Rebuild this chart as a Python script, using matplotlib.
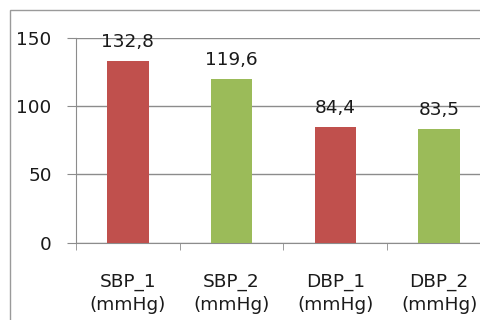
import numpy as np
import matplotlib
matplotlib.use("Agg")
import matplotlib.pyplot as plt
from matplotlib.patches import Rectangle

# data
categories = ["SBP_1\n(mmHg)", "SBP_2\n(mmHg)", "DBP_1\n(mmHg)", "DBP_2\n(mmHg)"]
values = [132.8, 119.6, 84.4, 83.5]
value_labels = ["132,8", "119,6", "84,4", "83,5"]
colors = ["#C0504D", "#9BBB59", "#C0504D", "#9BBB59"]

W, H = 481, 320
FS = 13.3
plt.rcParams['font.family'] = ['DejaVu Sans']
fig = plt.figure(figsize=(W / 100, H / 100), dpi=100)

# outer chart border (cut off at right and bottom like the original)
fig.patches.append(Rectangle((10 / W, -0.2), 2.0, 1.2 - 10 / H, transform=fig.transFigure,
                             fill=False, edgecolor="#9a9a9a", linewidth=1.0))

ax = fig.add_axes([76 / W, 1 - 242.7 / H, (491 - 76) / W, (242.7 - 37.7) / H])
x = np.arange(len(values))
ax.bar(x, values, width=0.4, color=colors, zorder=3)

for xi, v, lab in zip(x, values, value_labels):
    ax.annotate(lab, (xi, v), xytext=(0, 10), textcoords="offset points",
                ha="center", va="baseline", fontsize=FS, color="#1a1a1a", zorder=4)

ax.set_xlim(-0.5, len(values) - 0.5)
ax.set_ylim(0, 150)
ax.set_yticks([0, 50, 100, 150])
ax.yaxis.grid(True, color="#8c8c8c", linewidth=1.0, zorder=0)

ax.set_xticks(x)
ax.set_xticklabels(categories, fontsize=FS, color="#1a1a1a", linespacing=1.4)
ax.set_xticks(np.arange(-0.5, len(values), 1.0), minor=True)
ax.tick_params(axis="x", which="major", length=0, pad=21.5)
ax.tick_params(axis="x", which="minor", length=5, color="#8c8c8c", direction="out")
ax.tick_params(axis="y", length=6.5, color="#8c8c8c", pad=11, labelsize=FS, labelcolor="#1a1a1a")

for s in ["top", "right"]:
    ax.spines[s].set_visible(False)
ax.spines["left"].set_color("#8c8c8c")
ax.spines["bottom"].set_color("#8c8c8c")

fig.savefig("out.png", dpi=100)
